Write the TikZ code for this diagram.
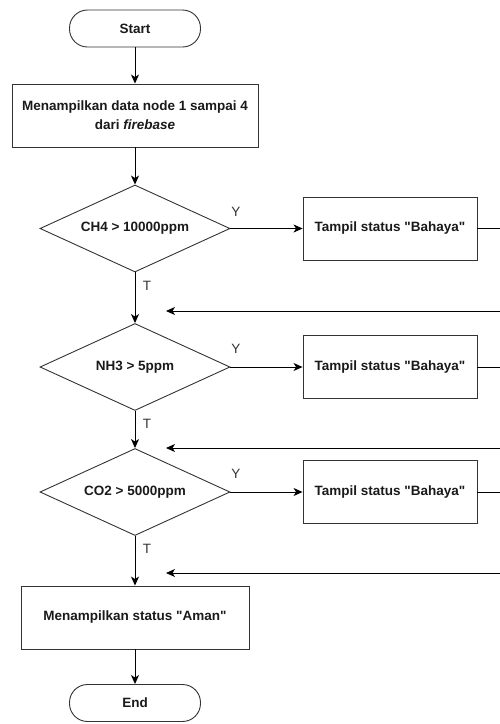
\documentclass[tikz,border=0pt]{standalone}
\usepackage{fontspec}
\setmainfont{Liberation Sans}[Ligatures=TeXOff]
\usetikzlibrary{shapes.geometric,arrows.meta}
\definecolor{edge}{HTML}{333333}
\definecolor{txt}{HTML}{1A1A1A}
\tikzset{
  base/.style={draw=edge,line width=0.9pt,text=txt,font=\fontsize{13.5}{19}\selectfont\bfseries,align=center,inner sep=0pt},
  pill/.style={base,rectangle,rounded corners=18pt,minimum width=131pt,minimum height=37pt},
  proc/.style={base,rectangle},
  dec/.style={base,diamond,aspect=2.2,minimum width=190pt,minimum height=87pt},
  arr/.style={draw=black,line width=0.9pt,-{Stealth[length=9pt,width=8pt,inset=2.5pt]}},
  lbl/.style={text=edge,font=\fontsize{13.5}{16}\selectfont,inner sep=0pt}
}
\begin{document}
\begin{tikzpicture}[x=1pt,y=-1pt]
\useasboundingbox (0,0) rectangle (500,724);
\clip (0,0) rectangle (500,724);
\node[pill] (start) at (135,28.5) {Start};
\node[proc,minimum width=246pt,minimum height=63pt] (p1) at (135,115.5) {Menampilkan data node 1 sampai 4\\dari \textit{firebase}};
\node[dec] (d1) at (135,228.5) {CH4 > 10000ppm};
\node[proc,minimum width=174pt,minimum height=63pt] (b1) at (390,228.5) {Tampil status "Bahaya"};
\node[dec] (d2) at (135,367) {NH3 > 5ppm};
\node[proc,minimum width=174pt,minimum height=63pt] (b2) at (390,367) {Tampil status "Bahaya"};
\node[dec] (d3) at (135,492) {CO2 > 5000ppm};
\node[proc,minimum width=174pt,minimum height=63pt] (b3) at (390,492) {Tampil status "Bahaya"};
\node[proc,minimum width=228pt,minimum height=63pt] (p2) at (135,617.5) {Menampilkan status "Aman"};
\node[pill] (end) at (135,703) {End};

\node[lbl] (y1) at (236,212) {Y};
\node[lbl] (y2) at (236,349) {Y};
\node[lbl] (y3) at (236,474) {Y};
\node[lbl] (t1) at (147,286) {T};
\node[lbl] (t2) at (147,424) {T};
\node[lbl] (t3) at (147,549) {T};

\coordinate (e1) at (500.5,228.5);
\coordinate (e2) at (500.5,367);
\coordinate (e3) at (500.5,492);
\coordinate (r1) at (500.5,311);
\coordinate (r2) at (500.5,448);
\coordinate (r3) at (500.5,573);
\coordinate (k1) at (166,311);
\coordinate (k2) at (166,448);
\coordinate (k3) at (166,573);

\draw[arr] (start) -- (p1);
\draw[arr] (p1) -- (d1);
\draw[arr] (d1) -- (d2);
\draw[arr] (d2) -- (d3);
\draw[arr] (d3) -- (p2);
\draw[arr] (p2) -- (end);
\draw[arr] (d1.east) -- (b1.west);
\draw[arr] (d2.east) -- (b2.west);
\draw[arr] (d3.east) -- (b3.west);
\draw[arr] (b1.east) -- (e1) -- (r1) -- (k1);
\draw[arr] (b2.east) -- (e2) -- (r2) -- (k2);
\draw[arr] (b3.east) -- (e3) -- (r3) -- (k3);
\end{tikzpicture}
\end{document}
